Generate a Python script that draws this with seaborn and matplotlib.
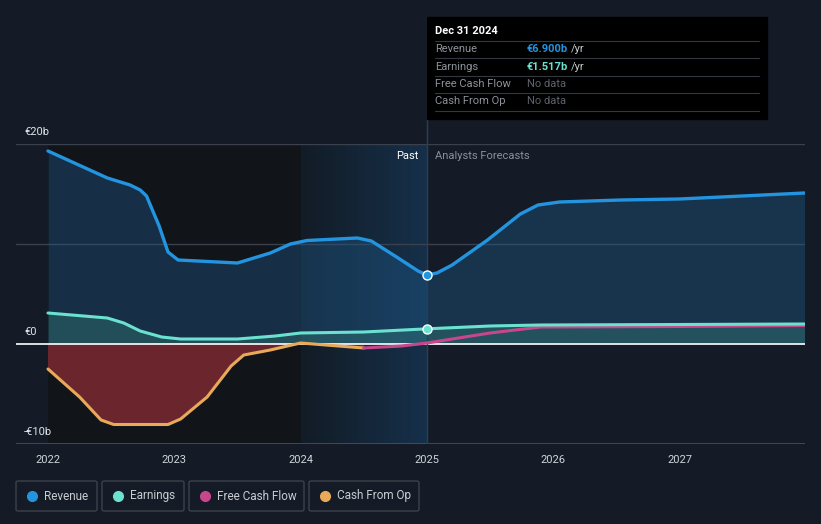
import numpy as np
import pandas as pd
import matplotlib
matplotlib.use("Agg")
import matplotlib.pyplot as plt
import seaborn as sns
from matplotlib.patches import Rectangle, FancyBboxPatch
from matplotlib.colors import LinearSegmentedColormap

# --- data (EUR billions) ---
rev_x = [2022.0, 2022.47, 2022.65, 2022.73, 2022.78, 2022.88, 2022.95, 2023.03, 2023.5,
         2023.76, 2023.92, 2024.05, 2024.45, 2024.56, 2024.76, 2024.93, 2025.0]
rev_y = [19.3, 16.6, 15.9, 15.4, 14.8, 11.8, 9.2, 8.4, 8.1,
         9.1, 10.0, 10.35, 10.6, 10.3, 8.7, 7.3, 6.9]
rev_fc_x = [2025.0, 2025.08, 2025.2, 2025.48, 2025.74, 2025.88, 2026.05, 2026.53, 2027.0,
            2027.99]
rev_fc_y = [6.9, 7.1, 7.9, 10.4, 13.0, 13.9, 14.2, 14.4, 14.5, 15.1]

earn_x = [2022.0, 2022.47, 2022.6, 2022.73, 2022.9, 2023.05, 2023.5, 2023.8, 2024.0,
          2024.5, 2025.0]
earn_y = [3.1, 2.6, 2.1, 1.3, 0.7, 0.5, 0.5, 0.8, 1.1, 1.2, 1.517]
earn_fc_x = [2025.0, 2025.5, 2025.9, 2027.0, 2027.99]
earn_fc_y = [1.517, 1.8, 1.9, 1.95, 2.0]

fcf_x = [2024.5, 2024.8, 2025.0, 2025.5, 2025.9, 2027.0, 2027.99]
fcf_y = [-0.4, -0.2, 0.1, 1.1, 1.7, 1.75, 1.85]

cfo_x = [2022.0, 2022.25, 2022.42, 2022.52, 2022.95, 2023.05, 2023.26, 2023.45, 2023.55,
         2023.76, 2024.0, 2024.5]
cfo_y = [-2.5, -5.3, -7.6, -8.05, -8.05, -7.5, -5.3, -2.2, -1.1,
         -0.6, 0.1, -0.4]

year_ticks = [2022, 2023, 2024, 2025, 2026, 2027]
y_labels = {20: "€20b", 0: "€0", -10: "-€10b"}

W, H = 821, 524
BG = "#151b26"
REV_C = "#2394df"
EARN_C = "#6ae2cf"
FCF_C = "#c8468b"
CFO_C = "#e8a95a"

sns.set_style("dark")
plt.rcParams["font.family"] = ["Roboto", "DejaVu Sans"]

fig = plt.figure(figsize=(W / 100, H / 100), dpi=100, facecolor=BG)


def fx(x):
    return x / W


def fy(y):
    return 1 - y / H


ax = fig.add_axes([fx(16), fy(444), fx(805) - fx(16), fy(144) - fy(444)])
ax.set_facecolor(BG)
x0 = 2022 - 32 / 126.3
x1 = 2022 + (805 - 48) / 126.3
for s in ax.spines.values():
    s.set_visible(False)

# background regions: darker past, gradient highlight for the last year
ax.axvspan(2022, 2024, color="#111419", zorder=0, lw=0)
hl = LinearSegmentedColormap.from_list("hl", ["#121c26", "#16304a"])
ax.imshow(np.linspace(0, 1, 64).reshape(1, -1), cmap=hl, aspect="auto",
          extent=[2024, 2025, -10, 20], zorder=0.5)
ax.set_xlim(x0, x1)
ax.set_ylim(-10, 20)

# grid
for v in (20, 10):
    ax.axhline(v, color="#3a404c", lw=1, zorder=1)
ax.axhline(-10, color="#4a505c", lw=1.2, zorder=1)

# fills
all_rev_x = rev_x + rev_fc_x[1:]
all_rev_y = rev_y + rev_fc_y[1:]
ax.fill_between(all_rev_x, 0, all_rev_y, color="#1f5a8a", alpha=0.4, lw=0, zorder=2)
all_earn_x = earn_x + earn_fc_x[1:]
all_earn_y = earn_y + earn_fc_y[1:]
ax.fill_between(all_earn_x, 0, all_earn_y, color="#3a8a80", alpha=0.35, lw=0, zorder=2)
ax.fill_between(cfo_x, 0, cfo_y, where=np.array(cfo_y) < 0, interpolate=True,
                color="#72282e", alpha=0.92, lw=0, zorder=2)

ax.axhline(0, color="white", lw=1.2, zorder=3)

# lines
rev_df = pd.DataFrame({"year": all_rev_x, "value": all_rev_y})
earn_df = pd.DataFrame({"year": all_earn_x, "value": all_earn_y})
fcf_df = pd.DataFrame({"year": fcf_x, "value": fcf_y})
cfo_df = pd.DataFrame({"year": cfo_x, "value": cfo_y})
line_kw = dict(solid_joinstyle="round", solid_capstyle="round")
sns.lineplot(data=cfo_df, x="year", y="value", color=CFO_C, lw=2.2, ax=ax, zorder=4, **line_kw)
sns.lineplot(data=fcf_df, x="year", y="value", color=FCF_C, lw=2.2, ax=ax, zorder=4, **line_kw)
sns.lineplot(data=earn_df, x="year", y="value", color=EARN_C, lw=2.2, ax=ax, zorder=5, **line_kw)
sns.lineplot(data=rev_df, x="year", y="value", color=REV_C, lw=2.4, ax=ax, zorder=5, **line_kw)

# present marker line and points
ax.axvline(2025, color="#27405a", lw=1, zorder=3)
ax.plot([2025], [rev_y[-1]], "o", ms=6.5, color=REV_C, mec="white", mew=1, zorder=6)
ax.plot([2025], [earn_y[-1]], "o", ms=6.5, color=EARN_C, mec="white", mew=1, zorder=6)

ax.set_xlabel("")
ax.set_ylabel("")
ax.set_xticks(year_ticks)
ax.set_xticklabels([str(y) for y in year_ticks])
ax.set_yticks([])
ax.tick_params(axis="x", colors="#4a505c", labelcolor="#d0d4da", labelsize=8, length=4, pad=4)

for v, lab in y_labels.items():
    ypx = 344 - v * 10
    fig.text(fx(24), fy(ypx - 12), lab, color="#e0e3e8", fontsize=8, va="center", ha="left")

fig.text(fx(418), fy(156), "Past", color="white", fontsize=8, va="center", ha="right")
fig.text(fx(435), fy(156), "Analysts Forecasts", color="#8a9099", fontsize=8, va="center", ha="left")

# vertical line to tooltip
fig.add_artist(plt.Line2D([fx(427), fx(427)], [fy(17), fy(144)], color="#27405a", lw=1))

# tooltip
fig.add_artist(Rectangle((fx(427), fy(119)), fx(767) - fx(427), fy(17) - fy(119),
                         transform=fig.transFigure, color="black", zorder=10))
fig.text(fx(435), fy(31), "Dec 31 2024", color="white", fontsize=8, fontweight="bold",
         va="center", zorder=11)
rows = [("Revenue", "€6.900b", REV_C), ("Earnings", "€1.517b", EARN_C),
        ("Free Cash Flow", "No data", None), ("Cash From Op", "No data", None)]
for i, (lab, val, c) in enumerate(rows):
    yy = 49 + i * 17.5
    fig.add_artist(plt.Line2D([fx(435), fx(759)], [fy(yy - 8.5), fy(yy - 8.5)],
                              color="#333840", lw=0.8, zorder=11))
    fig.text(fx(435), fy(yy), lab, color="#8d939b", fontsize=8, va="center", zorder=11)
    if c:
        t = fig.text(fx(527), fy(yy), val, color=c, fontsize=8, va="center",
                     fontweight="bold", zorder=11)
        fig.text(fx(527), fy(yy), "/yr", color="#c9ccd1", fontsize=8, va="center", zorder=11)
        # shift "/yr" after the value once sizes are known
        fig.texts[-1].set_gid("yr")
    else:
        fig.text(fx(527), fy(yy), val, color="#5d636c", fontsize=8, va="center", zorder=11)
fig.add_artist(plt.Line2D([fx(435), fx(759)], [fy(110.5), fy(110.5)],
                          color="#333840", lw=0.8, zorder=11))

fig.canvas.draw()
r = fig.canvas.get_renderer()
for i, t in enumerate(fig.texts):
    if t.get_gid() == "yr":
        val_t = fig.texts[i - 1]
        bb = val_t.get_window_extent(renderer=r)
        t.set_x((bb.x1 + 3) / fig.bbox.width)

# legend boxes
legend = [("Revenue", REV_C, 16, 97), ("Earnings", EARN_C, 102, 184),
          ("Free Cash Flow", FCF_C, 189, 304), ("Cash From Op", CFO_C, 309, 419)]
for lab, c, l, rr in legend:
    fig.add_artist(FancyBboxPatch((fx(l), fy(511)), fx(rr) - fx(l), fy(481) - fy(511),
                                  boxstyle="round,pad=0,rounding_size=0.003",
                                  transform=fig.transFigure, fc="none", ec="#3c424c", lw=1))
    fig.add_artist(plt.Line2D([fx(l + 16)], [fy(496)], marker="o", ms=7, color=c, lw=0))
    fig.text(fx(l + 28), fy(496), lab, color="#c9ccd1", fontsize=8.5, va="center")

fig.savefig("out.png", dpi=100, facecolor=BG)
